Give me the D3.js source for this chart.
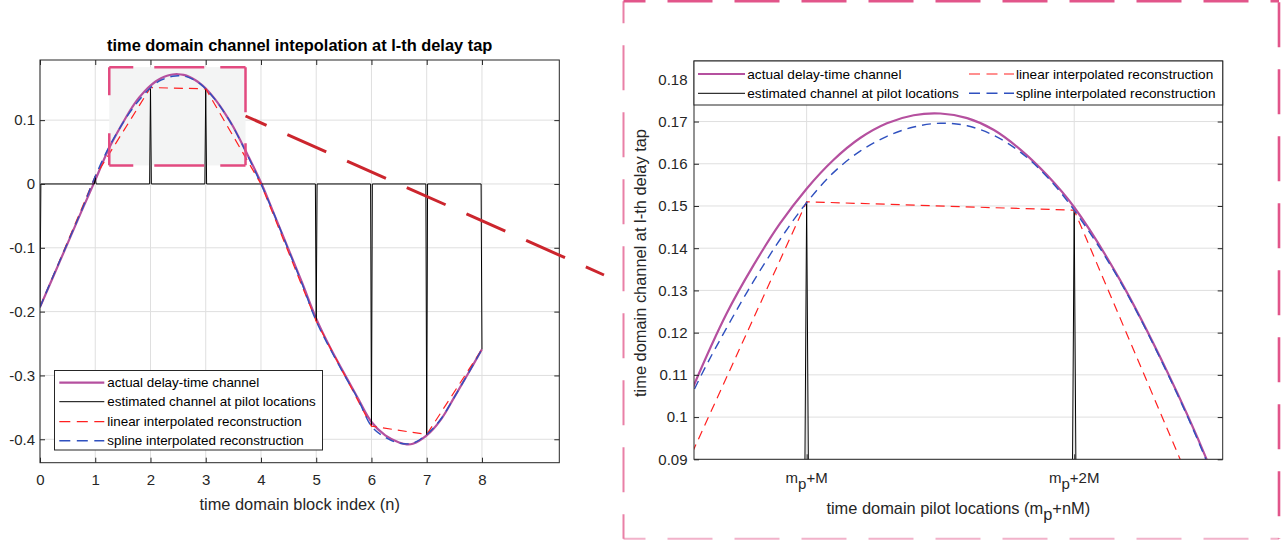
<!DOCTYPE html>
<html><head><meta charset="utf-8">
<script src="https://cdn.jsdelivr.net/npm/d3@7"></script>
<style>
body{margin:0;background:#fff;}
svg{display:block;font-family:"Liberation Sans",Arial,Helvetica,sans-serif;}
</style></head><body>
<svg id="c" width="1287" height="545"></svg>
<script>
// ---------------- data ----------------
const actualT = [0,0.25,0.5,0.75,1.0,1.25,1.579,1.7,1.8,1.9,2.0,2.1,2.2,2.3,2.4,2.5,2.6,2.7,2.8,2.9,3.0,3.171,3.345,3.495,3.75,4.012,4.25,4.525,4.75,5.0,5.25,5.5,5.75,6.0,6.25,6.5,6.64,6.75,7.0,7.25,7.5,7.75,8.0];
const actualV = [-0.193,-0.143,-0.093,-0.043,0.006,0.056,0.1076,0.1244,0.1358,0.1458,0.1541,0.1609,0.1661,0.1696,0.1715,0.1719,0.1708,0.1680,0.1633,0.1572,0.1497,0.1325,0.1111,0.0900,0.047,0.0,-0.050,-0.108,-0.156,-0.211,-0.256,-0.296,-0.335,-0.373,-0.394,-0.405,-0.408,-0.407,-0.394,-0.370,-0.334,-0.297,-0.259];
const splineT = [0,0.25,0.5,0.75,1.0,1.25,1.579,1.7,1.8,1.9,2.0,2.1,2.2,2.3,2.4,2.5,2.6,2.7,2.8,2.9,3.0,3.171,3.345,3.495,3.75,4.0,4.25,4.5,4.75,5.0,5.25,5.5,5.75,6.0,6.25,6.5,6.75,7.0,7.25,7.5,7.75,8.0];
const splineV = [-0.193,-0.142,-0.092,-0.042,0.012,0.058,0.1064,0.1210,0.1320,0.1420,0.1508,0.1579,0.1630,0.1665,0.1687,0.1696,0.1690,0.1667,0.1627,0.1568,0.1490,0.1322,0.1108,0.0895,0.046,0.0,-0.050,-0.104,-0.158,-0.215,-0.258,-0.298,-0.336,-0.3795,-0.397,-0.406,-0.406,-0.3925,-0.369,-0.334,-0.297,-0.259];
const pilotT = [0,1,2,3,4,5,6,7,8];
const pilotV = [-0.193,0.012,0.151,0.149,0.0,-0.215,-0.3795,-0.3925,-0.259];
const sampleStep = 1/64;

const xTicksMain = [0,1,2,3,4,5,6,7,8];
const yTicksMain = [-0.4,-0.3,-0.2,-0.1,0,0.1];
const xLimMain = [0,9.4];
const yLimMain = [-0.4367,0.1942];

const xTicksZoom = [2,3];
const xTickLabelsZoom = [["m","p","+M"],["m","p","+2M"]];
const yTicksZoom = [0.09,0.1,0.11,0.12,0.13,0.14,0.15,0.16,0.17,0.18];
const xLimZoom = [1.579,3.555];
const yLimZoom = [0.09,0.18434];

const zoomBoxX = [1.254,3.72];
const zoomBoxY = [0.029,0.183];

const seriesNames = ["actual delay-time channel","estimated channel at pilot locations","linear interpolated reconstruction","spline interpolated reconstruction"];
const titleMain = "time domain channel intepolation at l-th delay tap";
const xLabelMain = "time domain block index (n)";
const yLabelZoom = "time domain channel at l-th delay tap";
const xLabelZoom = ["time domain pilot locations (m","p","+nM)"];

// ---------------- styles ----------------
const ST = [
  {stroke:"#b5509f", width:2.2, dash:null},
  {stroke:"#000000", width:1, dash:null},
  {stroke:"#ff2020", width:1.2, dash:"9,6"},
  {stroke:"#2f50bf", width:1.4, dash:"9,6"}
];
const AX = "#262626";

const svg = d3.select("#c");

// derived series
const actualPts = actualT.map((t,i)=>[t,actualV[i]]);
const splinePts = splineT.map((t,i)=>[t,splineV[i]]);
const linearPts = pilotT.map((t,i)=>[t,pilotV[i]]);
const estPts = [];
pilotT.forEach((t,i)=>{
  if (i>0) estPts.push([t-sampleStep,0]);
  estPts.push([t,pilotV[i]]);
  if (i<pilotT.length-1) estPts.push([t+sampleStep,0]);
});
const seriesPts = [actualPts, estPts, linearPts, splinePts];
const smooth = [true,false,false,true];

function fmt(d){ return String(+(+d).toFixed(4)); }

function drawPanel(o){
  const g = svg.append("g");
  const x = d3.scaleLinear(o.xLim,[o.l,o.r]);
  const y = d3.scaleLinear(o.yLim,[o.b,o.t]);
  const cid = o.id+"-clip";
  svg.append("clipPath").attr("id",cid).append("rect")
    .attr("x",o.l).attr("y",o.t).attr("width",o.r-o.l).attr("height",o.b-o.t);
  g.append("rect").attr("x",o.l).attr("y",o.t).attr("width",o.r-o.l).attr("height",o.b-o.t).attr("fill","#fff");
  const grid = g.append("g").attr("stroke","#dfdfdf").attr("stroke-width",1);
  grid.selectAll("line.gx").data(o.xTicks).join("line").attr("class","gx")
    .attr("x1",d=>x(d)).attr("x2",d=>x(d)).attr("y1",o.t).attr("y2",o.b);
  grid.selectAll("line.gy").data(o.yTicks).join("line").attr("class","gy")
    .attr("y1",d=>y(d)).attr("y2",d=>y(d)).attr("x1",o.l).attr("x2",o.r);
  const under = g.append("g");
  const plot = g.append("g").attr("clip-path",`url(#${cid})`);
  return {g,x,y,plot,under,o};
}

function drawSeries(P){
  const {x,y,plot} = P;
  seriesPts.forEach((pts,i)=>{
    const line = d3.line().x(d=>x(d[0])).y(d=>y(d[1]));
    if (smooth[i]) line.curve(d3.curveCatmullRom.alpha(0.5));
    plot.append("path").attr("d",line(pts)).attr("fill","none")
      .attr("stroke",ST[i].stroke).attr("stroke-width",ST[i].width)
      .attr("stroke-dasharray",ST[i].dash).attr("stroke-linejoin","round");
  });
}

function styleAxis(sel){
  sel.select(".domain").remove();
  sel.selectAll(".tick line").attr("stroke",AX);
  sel.selectAll("text").attr("fill",AX).attr("font-size",15).attr("font-family",'"Liberation Sans",Arial,sans-serif');
  sel.attr("font-family",null).attr("font-size",null);
}

function drawAxes(P, opt){
  const {g,x,y,o} = P;
  const ax = g.append("g");
  const b = ax.append("g").attr("transform",`translate(0,${o.b})`)
    .call(d3.axisBottom(x).tickValues(o.xTicks).tickSize(-5).tickPadding(11.5).tickFormat(opt.xLabels? ()=>"" : fmt));
  styleAxis(b);
  const t = ax.append("g").attr("transform",`translate(0,${o.t})`)
    .call(d3.axisTop(x).tickValues(o.xTicks).tickSize(-5).tickFormat(()=>""));
  styleAxis(t);
  const l = ax.append("g").attr("transform",`translate(${o.l},0)`)
    .call(d3.axisLeft(y).tickValues(o.yTicks).tickSize(-5).tickPadding(opt.yPad).tickFormat(fmt));
  styleAxis(l);
  const r = ax.append("g").attr("transform",`translate(${o.r},0)`)
    .call(d3.axisRight(y).tickValues(o.yTicks).tickSize(-5).tickFormat(()=>""));
  styleAxis(r);
  ax.append("rect").attr("x",o.l).attr("y",o.t).attr("width",o.r-o.l).attr("height",o.b-o.t)
    .attr("fill","none").attr("stroke",AX).attr("stroke-width",1);
  if (opt.xLabels){
    o.xTicks.forEach((v,i)=>{
      const tx = g.append("text").attr("x",x(v)).attr("y",opt.xLabelY).attr("text-anchor","middle")
        .attr("font-size",15).attr("fill",AX);
      subText(tx, xTickLabelsZoom[i]);
    });
  }
}

function subText(sel, parts){
  sel.append("tspan").text(parts[0]);
  sel.append("tspan").attr("dy",6).text(parts[1]);
  sel.append("tspan").attr("dy",-6).text(parts[2]);
}

function legendSample(g, i, x1, x2, yy){
  g.append("line").attr("x1",x1).attr("x2",x2).attr("y1",yy).attr("y2",yy)
    .attr("stroke",ST[i].stroke).attr("stroke-width",ST[i].width).attr("stroke-dasharray",ST[i].dash ? "11,6.5" : null);
}

// ---------------- left (main) panel ----------------
const PL = drawPanel({id:"main", l:40, r:559.3, t:60, b:462.7, xLim:xLimMain, yLim:yLimMain, xTicks:xTicksMain, yTicks:yTicksMain});
PL.under.append("rect")
  .attr("x",PL.x(zoomBoxX[0])).attr("y",PL.y(zoomBoxY[1]))
  .attr("width",PL.x(zoomBoxX[1])-PL.x(zoomBoxX[0])).attr("height",PL.y(zoomBoxY[0])-PL.y(zoomBoxY[1]))
  .attr("fill","#f3f4f4");
drawSeries(PL);
{
  const x0=PL.x(zoomBoxX[0]), x1=PL.x(zoomBoxX[1]), y0=PL.y(zoomBoxY[1]), y1=PL.y(zoomBoxY[0]);
  const pk = PL.g.append("g").attr("stroke","#e24a80").attr("stroke-width",2.5).attr("fill","none");
  pk.append("line").attr("x1",x0).attr("x2",x1).attr("y1",y0).attr("y2",y0).attr("stroke-dasharray","24,21,50,16,26");
  pk.append("line").attr("x1",x0).attr("x2",x1).attr("y1",y1).attr("y2",y1).attr("stroke-dasharray","24,21,50,16,26");
  pk.append("line").attr("x1",x0).attr("x2",x0).attr("y1",y0).attr("y2",y1).attr("stroke-dasharray","28,38,32");
  pk.append("line").attr("x1",x1).attr("x2",x1).attr("y1",y0).attr("y2",y1).attr("stroke-dasharray","45,31,22");
}
drawAxes(PL,{yPad:5});
svg.append("text").attr("x",299.7).attr("y",50.5).attr("text-anchor","middle")
  .attr("font-size",16.4).attr("font-weight","bold").attr("fill","#000").text(titleMain);
svg.append("text").attr("x",299.7).attr("y",509.5).attr("text-anchor","middle")
  .attr("font-size",16.4).attr("fill",AX).text(xLabelMain);
{
  const lg = svg.append("g");
  lg.append("rect").attr("x",54.5).attr("y",370.5).attr("width",268).attr("height",79.5)
    .attr("fill","#fff").attr("stroke",AX).attr("stroke-width",1);
  const rows = [382.7,401.7,421.7,440.7];
  seriesNames.forEach((n,i)=>{
    legendSample(lg,i,59.3,104.3,rows[i]);
    lg.append("text").attr("x",107.3).attr("y",rows[i]).attr("dy","0.35em")
      .attr("font-size",13.4).attr("fill","#000").text(n);
  });
}

// ---------------- right (zoom) panel ----------------
const PR = drawPanel({id:"zoom", l:694, r:1222.7, t:61, b:459.3, xLim:xLimZoom, yLim:yLimZoom, xTicks:xTicksZoom, yTicks:yTicksZoom});
drawSeries(PR);
drawAxes(PR,{yPad:6.5, xLabels:true, xLabelY:483});
{
  const lg = svg.append("g");
  lg.append("rect").attr("x",694).attr("y",61).attr("width",528.7).attr("height",44)
    .attr("fill","#fff").attr("stroke",AX).attr("stroke-width",1);
  const pos = [[698,745,747.3,74],[698,745,747.3,93.3],[969,1014,1016,74],[969,1014,1016,93.3]];
  seriesNames.forEach((n,i)=>{
    const p = pos[i];
    legendSample(lg,i,p[0],p[1],p[3]);
    lg.append("text").attr("x",p[2]).attr("y",p[3]).attr("dy","0.35em")
      .attr("font-size",13.6).attr("fill","#000").text(n);
  });
}
svg.append("text").attr("transform","translate(646,263) rotate(-90)").attr("text-anchor","middle")
  .attr("font-size",16.4).attr("fill",AX).text(yLabelZoom);
{
  const t = svg.append("text").attr("x",958.3).attr("y",514).attr("text-anchor","middle")
    .attr("font-size",16.4).attr("fill",AX);
  subText(t, xLabelZoom);
}

// ---------------- annotations ----------------
svg.append("line")
  .attr("x1",PL.x(zoomBoxX[1])).attr("y1",116).attr("x2",604).attr("y2",275)
  .attr("stroke","#cc252d").attr("stroke-width",3)
  .attr("stroke-dasharray","42.5,22.8").attr("stroke-dashoffset",19.5);
{
  const fx0=623.5, fx1=1279, fy0=1.2, fy1=538.8;
  const fr = svg.append("g").attr("stroke","#e2558a").attr("fill","none");
  fr.append("line").attr("x1",fx0).attr("x2",fx1).attr("y1",fy0).attr("y2",fy0).attr("stroke-width",2.4).attr("stroke-dasharray","45,22").attr("stroke-dashoffset",23);
  fr.append("line").attr("x1",fx0).attr("x2",fx0).attr("y1",fy0).attr("y2",fy1).attr("stroke-width",2).attr("opacity",0.75).attr("stroke-dasharray","45,22").attr("stroke-dashoffset",23);
  fr.append("line").attr("x1",fx1).attr("x2",fx1).attr("y1",fy0).attr("y2",fy1).attr("stroke-width",2.6).attr("stroke-dasharray","45,22").attr("stroke-dashoffset",-68);
  fr.append("line").attr("x1",fx0).attr("x2",fx1).attr("y1",fy1).attr("y2",fy1).attr("stroke-width",2).attr("opacity",0.45).attr("stroke-dasharray","45,22").attr("stroke-dashoffset",23);
}
</script>
</body></html>
